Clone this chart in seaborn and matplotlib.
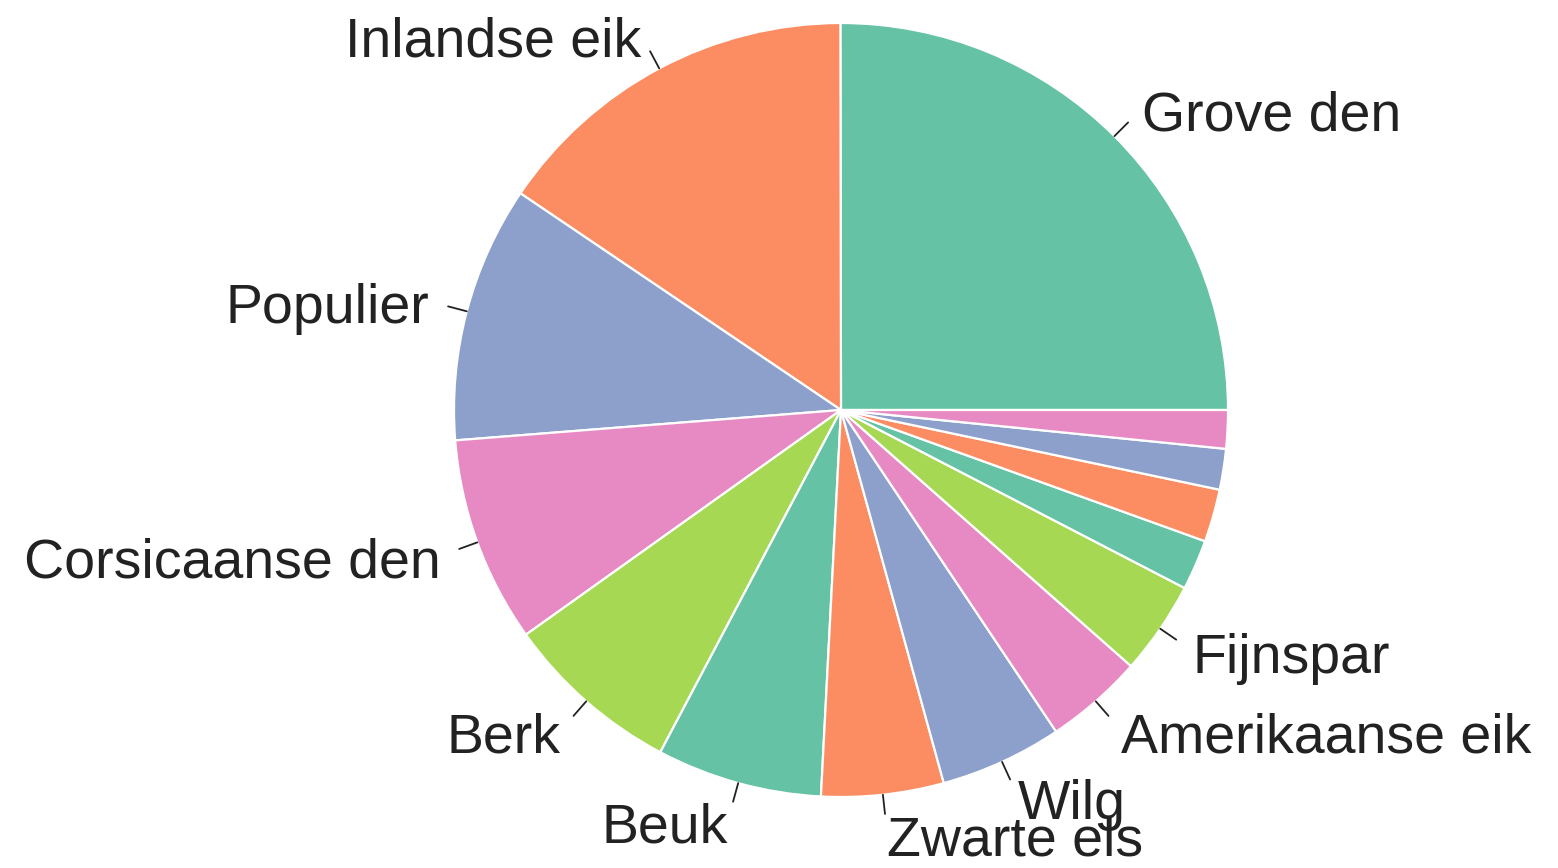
import numpy as np
import matplotlib
matplotlib.use("Agg")
import matplotlib.pyplot as plt
import matplotlib.transforms as mtransforms
import seaborn as sns

species = ["Grove den", "Inlandse eik", "Populier", "Corsicaanse den", "Berk",
           "Beuk", "Zwarte els", "Wilg", "Amerikaanse eik", "Fijnspar",
           "", "", "", ""]
shares = [25.0, 15.5, 10.7, 8.6, 7.4, 6.9, 5.1, 5.1, 4.1, 3.9, 2.1, 2.2, 1.7, 1.6]

sns.set_theme(style="white")
plt.rcParams["font.family"] = ["Liberation Sans", "DejaVu Sans"]

palette = sns.color_palette("Set2", 5)
colors = [palette[i % 5] for i in range(len(shares))]

W, H = 1558, 868
cx, cy, R = 841, 410, 387  # pixel layout of the pie
fig = plt.figure(figsize=(W / 100, H / 100), dpi=100)
ax = fig.add_axes([0, 0, 1, 1])

ax.pie(shares, colors=colors, startangle=0, counterclock=True, radius=1,
       wedgeprops=dict(edgecolor="white", linewidth=1.6))

text_tr = mtransforms.offset_copy(ax.transData, fig=fig, x=0, y=-8, units="dots")

total = sum(shares)
cum = np.cumsum([0] + shares)
for i, lab in enumerate(species):
    if not lab:
        continue
    mid = np.deg2rad((cum[i] + cum[i + 1]) / 2 / total * 360)
    c, s = np.cos(mid), np.sin(mid)
    ax.plot([c, 1.05 * c], [s, 1.05 * s], color="#222222", lw=1.3)
    ax.text(1.1 * c, 1.1 * s, lab, ha="left" if c > 0 else "right",
            va="center", fontsize=40, color="#222222", transform=text_tr)

ax.set_aspect("auto")
ax.set_xlim(-cx / R, (W - cx) / R)
ax.set_ylim(-(H - cy) / R, cy / R)
ax.axis("off")

fig.savefig("out.png", dpi=100, facecolor="white")
